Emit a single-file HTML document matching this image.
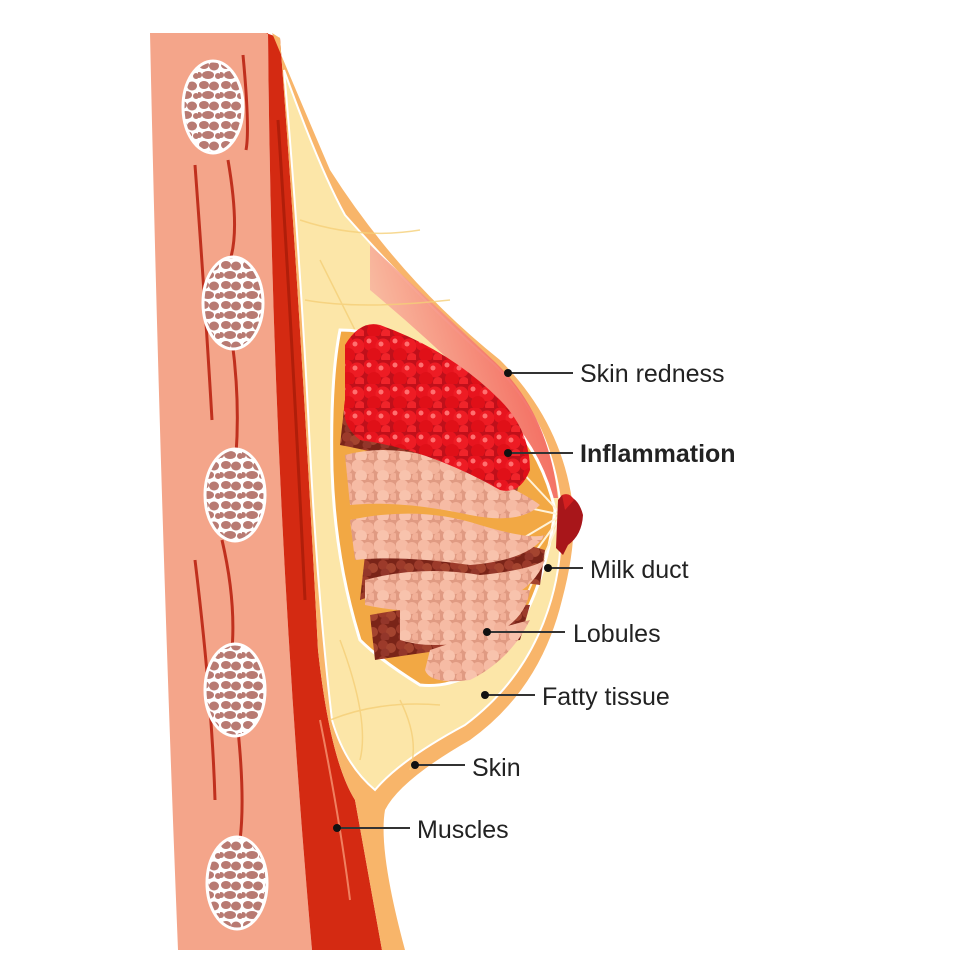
<!DOCTYPE html>
<html><head><meta charset="utf-8"><style>
html,body{margin:0;padding:0;background:#fff}
svg{display:block}
text{font-family:"Liberation Sans",Arial,sans-serif;font-size:25px;fill:#222}
</style></head><body>
<svg width="975" height="975" viewBox="0 0 975 975" xmlns="http://www.w3.org/2000/svg">
<defs>
<pattern id="rib" width="22" height="20" patternUnits="userSpaceOnUse">
<rect width="22" height="20" fill="#fff"/>
<ellipse cx="6" cy="5" rx="5" ry="4" fill="#b87a72"/>
<ellipse cx="16" cy="6" rx="5" ry="4.5" fill="#b87a72"/>
<ellipse cx="10" cy="15" rx="6" ry="4" fill="#b87a72"/>
<ellipse cx="20" cy="16" rx="3" ry="3" fill="#b87a72"/>
<ellipse cx="1" cy="15" rx="3" ry="3" fill="#b87a72"/>
</pattern>
<pattern id="redc" width="26" height="24" patternUnits="userSpaceOnUse">
<rect width="26" height="24" fill="#c0101a"/>
<circle cx="7" cy="7" r="8" fill="#e8141e"/>
<circle cx="19" cy="10" r="7.5" fill="#ee1c24"/>
<circle cx="10" cy="19" r="7" fill="#e01018"/>
<circle cx="22" cy="22" r="5" fill="#f0242a"/>
<circle cx="5" cy="5" r="2.5" fill="#ff7070"/>
<circle cx="17" cy="8" r="2.5" fill="#ff7070"/>
</pattern>
<pattern id="pinkc" width="22" height="20" patternUnits="userSpaceOnUse">
<rect width="22" height="20" fill="#e09a82"/>
<circle cx="6" cy="6" r="6.5" fill="#f6bba4"/>
<circle cx="16" cy="8" r="6" fill="#f3b39b"/>
<circle cx="9" cy="16" r="6" fill="#f8c3ad"/>
<circle cx="20" cy="17" r="4" fill="#f2b098"/>
</pattern>
<pattern id="brownc" width="18" height="16" patternUnits="userSpaceOnUse">
<rect width="18" height="16" fill="#7a2418"/>
<circle cx="5" cy="5" r="5" fill="#9c3a2a"/>
<circle cx="13" cy="8" r="5" fill="#a4442f"/>
<circle cx="7" cy="13" r="4.5" fill="#93362a"/>
</pattern>
<linearGradient id="redskin" x1="1" y1="0" x2="0" y2="0.4">
<stop offset="0" stop-color="#f03a3a"/><stop offset="1" stop-color="#f9c0a8"/>
</linearGradient>
</defs>

<!-- chest wall -->
<path d="M150,33 L268,33 Q272,500 312,950 L178,950 Q160,500 150,33 Z" fill="#f4a58a"/>
<g stroke="#c0301e" stroke-width="3" fill="none">
<path d="M243,55 Q250,130 246,150"/><path d="M228,160 Q240,230 230,260"/>
<path d="M195,165 Q205,300 212,420"/><path d="M232,340 Q240,400 236,455"/>
<path d="M222,540 Q236,600 232,650"/><path d="M195,560 Q212,700 215,800"/>
<path d="M238,730 Q245,800 240,840"/>
</g>
<g stroke="#fff" stroke-width="3" fill="url(#rib)">
<ellipse cx="213" cy="107" rx="30" ry="46"/>
<ellipse cx="233" cy="303" rx="30" ry="46"/>
<ellipse cx="235" cy="495" rx="30" ry="46"/>
<ellipse cx="235" cy="690" rx="30" ry="46"/>
<ellipse cx="237" cy="883" rx="30" ry="46"/>
</g>

<!-- muscle -->
<path d="M266,33 L280,38 Q300,300 318,650 Q330,760 355,800 L382,950 L312,950 Q272,500 268,33 Z" fill="#d42a12"/>
<path d="M278,120 Q292,330 305,600" stroke="#b01e0a" stroke-width="3" fill="none"/>
<path d="M320,720 Q340,820 350,900" stroke="#f08060" stroke-width="2" fill="none"/>

<!-- breast skin -->
<path d="M272,33 Q300,100 330,170 Q400,280 500,360 Q560,420 572,500 Q578,540 562,600 Q540,690 470,740 Q400,780 385,810 Q378,850 405,950 L382,950 L355,800 Q330,760 318,650 Q300,300 280,38 Z" fill="#f8b56a"/>
<!-- fat -->
<path d="M284,70 Q320,170 345,215 Q420,300 495,365 Q550,420 560,500 Q565,560 548,610 Q525,680 465,725 Q400,760 375,790 Q345,765 332,720 Q318,600 310,450 Q300,250 284,70 Z" fill="#fce6a8" stroke="#fff" stroke-width="2"/>
<!-- redness -->
<path d="M370,245 Q440,310 495,362 Q548,412 558,498 L535,498 Q520,430 480,390 Q430,340 370,290 Z" fill="url(#redskin)" opacity="0.9"/>
<g stroke="#f5cf78" stroke-width="1.5" fill="none" opacity="0.8">
<path d="M300,220 Q360,240 420,230"/><path d="M305,300 Q360,310 450,300"/>
<path d="M330,720 Q380,700 440,705"/><path d="M340,640 Q370,720 360,760"/>
<path d="M400,700 Q420,740 410,770"/><path d="M320,260 L380,380"/>
</g>

<!-- gland cavity -->
<path d="M340,330 Q400,330 480,390 Q540,440 555,510 Q545,590 510,640 Q470,690 420,685 Q380,660 360,640 Q335,560 332,470 Q330,380 340,330 Z" fill="#f2a844" stroke="#fff" stroke-width="3"/>
<!-- ducts -->
<g stroke="#fff2d8" stroke-width="2">
<line x1="562" y1="515" x2="520" y2="470"/><line x1="562" y1="515" x2="515" y2="505"/>
<line x1="562" y1="515" x2="520" y2="540"/><line x1="562" y1="515" x2="515" y2="580"/>
<line x1="562" y1="515" x2="520" y2="610"/>
</g>
<!-- lobule bands -->
<path d="M365,555 Q440,520 545,550 L540,585 Q440,570 360,600 Z" fill="url(#brownc)"/>
<path d="M370,615 Q450,600 530,605 L520,640 Q440,650 375,660 Z" fill="url(#brownc)"/>
<path d="M345,400 Q430,420 520,480 L515,500 Q420,460 340,445 Z" fill="url(#brownc)"/>
<path d="M345,455 Q400,440 470,470 Q520,490 540,505 Q520,525 470,515 Q400,500 350,505 Z" fill="url(#pinkc)"/>
<path d="M350,520 Q420,505 480,525 Q530,540 545,535 Q530,560 470,565 Q400,555 355,560 Z" fill="url(#pinkc)"/>
<path d="M365,580 Q420,565 480,575 Q530,570 545,560 Q530,600 470,610 Q410,615 365,605 Z" fill="url(#pinkc)"/>
<path d="M400,605 Q460,590 530,590 Q525,625 480,640 Q430,650 400,640 Z" fill="url(#pinkc)"/>
<path d="M430,650 Q490,630 530,620 Q510,660 470,680 Q430,685 425,670 Z" fill="url(#pinkc)"/>
<path d="M345,345 Q360,320 380,325 Q450,350 500,400 Q530,430 530,470 Q520,495 500,490 Q430,450 360,440 Q340,425 345,400 Z" fill="url(#redc)"/>
<!-- nipple -->
<path d="M562,495 Q578,495 583,515 Q582,535 568,545 L563,555 L556,548 L558,500 Z" fill="#a8161a"/>
<path d="M562,495 Q570,492 574,500 L565,510 Z" fill="#d42020"/>

<!-- labels -->
<g stroke="#333" stroke-width="2">
<line x1="508" y1="373" x2="573" y2="373"/>
<line x1="508" y1="453" x2="573" y2="453"/>
<line x1="548" y1="568" x2="583" y2="568"/>
<line x1="487" y1="632" x2="565" y2="632"/>
<line x1="485" y1="695" x2="535" y2="695"/>
<line x1="415" y1="765" x2="465" y2="765"/>
<line x1="337" y1="828" x2="410" y2="828"/>
</g>
<g fill="#111">
<circle cx="508" cy="373" r="4"/><circle cx="508" cy="453" r="4"/>
<circle cx="548" cy="568" r="4"/><circle cx="487" cy="632" r="4"/>
<circle cx="485" cy="695" r="4"/><circle cx="415" cy="765" r="4"/>
<circle cx="337" cy="828" r="4"/>
</g>
<text x="580" y="382">Skin redness</text>
<text x="580" y="462" style="font-weight:bold">Inflammation</text>
<text x="590" y="578">Milk duct</text>
<text x="573" y="642">Lobules</text>
<text x="542" y="705">Fatty tissue</text>
<text x="472" y="776">Skin</text>
<text x="417" y="838">Muscles</text>
</svg>
</body></html>
